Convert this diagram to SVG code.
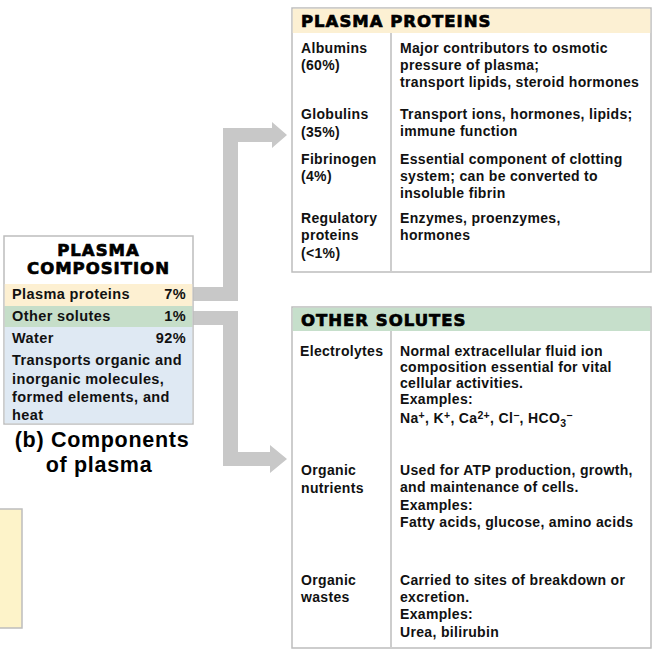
<svg xmlns="http://www.w3.org/2000/svg" width="658" height="652" viewBox="0 0 658 652">
<style>
.box{stroke:#bdbdbd;stroke-width:1.5;}
.div{stroke:#bdbdbd;stroke-width:1.5;fill:none;}
.hd{font-family:"DejaVu Sans",sans-serif;font-weight:bold;font-size:16.5px;letter-spacing:1px;fill:#000;stroke:#000;stroke-width:0.7;}
.t{font-family:"Liberation Sans",Arial,sans-serif;font-weight:bold;font-size:14px;letter-spacing:0.33px;fill:#111;}
.l{font-family:"Liberation Sans",Arial,sans-serif;font-weight:bold;font-size:14.5px;letter-spacing:0.4px;fill:#111;}
.cap{font-family:"Liberation Sans",Arial,sans-serif;font-weight:bold;font-size:21.5px;letter-spacing:0.7px;fill:#000;}
.arr{fill:#c8c8c8;}
.sup{font-size:10.5px;}
</style>
<rect width="658" height="652" fill="#ffffff"/>

<g id="connectors">
<path class="arr" d="M193,287 H223 V128 H272 V122 L287,135 L272,148 V142 H238 V301 H193 Z"/>
<path class="arr" d="M193,311 H238 V452 H270 V445 L287,459 L270,473 V466 H223 V325 H193 Z"/>
</g>

<g id="plasma-composition">
<rect class="box" x="4" y="236" width="189" height="188" fill="#ffffff"/>
<rect x="4.75" y="284" width="187.5" height="22" fill="#fdf0d2"/>
<rect x="4.75" y="306" width="187.5" height="21" fill="#c6dec9"/>
<rect x="4.75" y="327" width="187.5" height="96.25" fill="#dfe9f3"/>
<text class="hd" x="98.5" y="256" text-anchor="middle">PLASMA</text>
<text class="hd" x="98.5" y="274" text-anchor="middle">COMPOSITION</text>
<text class="l" x="12" y="299">Plasma proteins</text>
<text class="l" x="186" y="299" text-anchor="end">7%</text>
<text class="l" x="12" y="321">Other solutes</text>
<text class="l" x="186" y="321" text-anchor="end">1%</text>
<text class="l" x="12" y="343">Water</text>
<text class="l" x="186" y="343" text-anchor="end">92%</text>
<text class="l" x="12" y="365">Transports organic and</text>
<text class="l" x="12" y="384">inorganic molecules,</text>
<text class="l" x="12" y="402">formed elements, and</text>
<text class="l" x="12" y="420">heat</text>
</g>

<g id="caption">
<text class="cap" x="102" y="447" text-anchor="middle">(b) Components</text>
<text class="cap" x="99" y="472" text-anchor="middle">of plasma</text>
</g>

<g id="yellow-box">
<rect class="box" x="-2" y="509" width="24" height="119" fill="#fdf3c9"/>
</g>

<g id="plasma-proteins">
<rect class="box" x="292" y="8" width="359" height="264" fill="#ffffff"/>
<rect x="292.75" y="8.75" width="357.5" height="24.25" fill="#fcf0d3"/>
<line class="div" x1="391" y1="33" x2="391" y2="271"/>
<text class="hd" x="301" y="27">PLASMA PROTEINS</text>
<text class="t" x="301" y="53">Albumins</text>
<text class="t" x="301" y="70">(60%)</text>
<text class="t" x="400" y="53">Major contributors to osmotic</text>
<text class="t" x="400" y="70">pressure of plasma;</text>
<text class="t" x="400" y="87">transport lipids, steroid hormones</text>
<text class="t" x="301" y="119">Globulins</text>
<text class="t" x="301" y="137">(35%)</text>
<text class="t" x="400" y="119">Transport ions, hormones, lipids;</text>
<text class="t" x="400" y="136">immune function</text>
<text class="t" x="301" y="164">Fibrinogen</text>
<text class="t" x="301" y="181">(4%)</text>
<text class="t" x="400" y="164">Essential component of clotting</text>
<text class="t" x="400" y="181">system; can be converted to</text>
<text class="t" x="400" y="198">insoluble fibrin</text>
<text class="t" x="301" y="223">Regulatory</text>
<text class="t" x="301" y="240">proteins</text>
<text class="t" x="301" y="258">(&lt;1%)</text>
<text class="t" x="400" y="223">Enzymes, proenzymes,</text>
<text class="t" x="400" y="240">hormones</text>
</g>

<g id="other-solutes">
<rect class="box" x="292" y="307" width="359" height="341" fill="#ffffff"/>
<rect x="292.75" y="307.75" width="357.5" height="23.25" fill="#c6dfcb"/>
<line class="div" x1="391" y1="331" x2="391" y2="647"/>
<text class="hd" x="301" y="326">OTHER SOLUTES</text>
<text class="t" x="300" y="356">Electrolytes</text>
<text class="t" x="400" y="356">Normal extracellular fluid ion</text>
<text class="t" x="400" y="372">composition essential for vital</text>
<text class="t" x="400" y="388">cellular activities.</text>
<text class="t" x="400" y="404">Examples:</text>
<text class="t" x="400" y="423">Na<tspan class="sup" dy="-4">+</tspan><tspan dy="4">, K</tspan><tspan class="sup" dy="-4">+</tspan><tspan dy="4">, Ca</tspan><tspan class="sup" dy="-4">2+</tspan><tspan dy="4">, Cl</tspan><tspan class="sup" dy="-4">−</tspan><tspan dy="4">, HCO</tspan><tspan class="sup" dy="4">3</tspan><tspan class="sup" dy="-8">−</tspan></text>
<text class="t" x="301" y="475">Organic</text>
<text class="t" x="301" y="493">nutrients</text>
<text class="t" x="400" y="475">Used for ATP production, growth,</text>
<text class="t" x="400" y="492">and maintenance of cells.</text>
<text class="t" x="400" y="510">Examples:</text>
<text class="t" x="400" y="527">Fatty acids, glucose, amino acids</text>
<text class="t" x="301" y="585">Organic</text>
<text class="t" x="301" y="602">wastes</text>
<text class="t" x="400" y="585">Carried to sites of breakdown or</text>
<text class="t" x="400" y="602">excretion.</text>
<text class="t" x="400" y="619">Examples:</text>
<text class="t" x="400" y="637">Urea, bilirubin</text>
</g>
</svg>
